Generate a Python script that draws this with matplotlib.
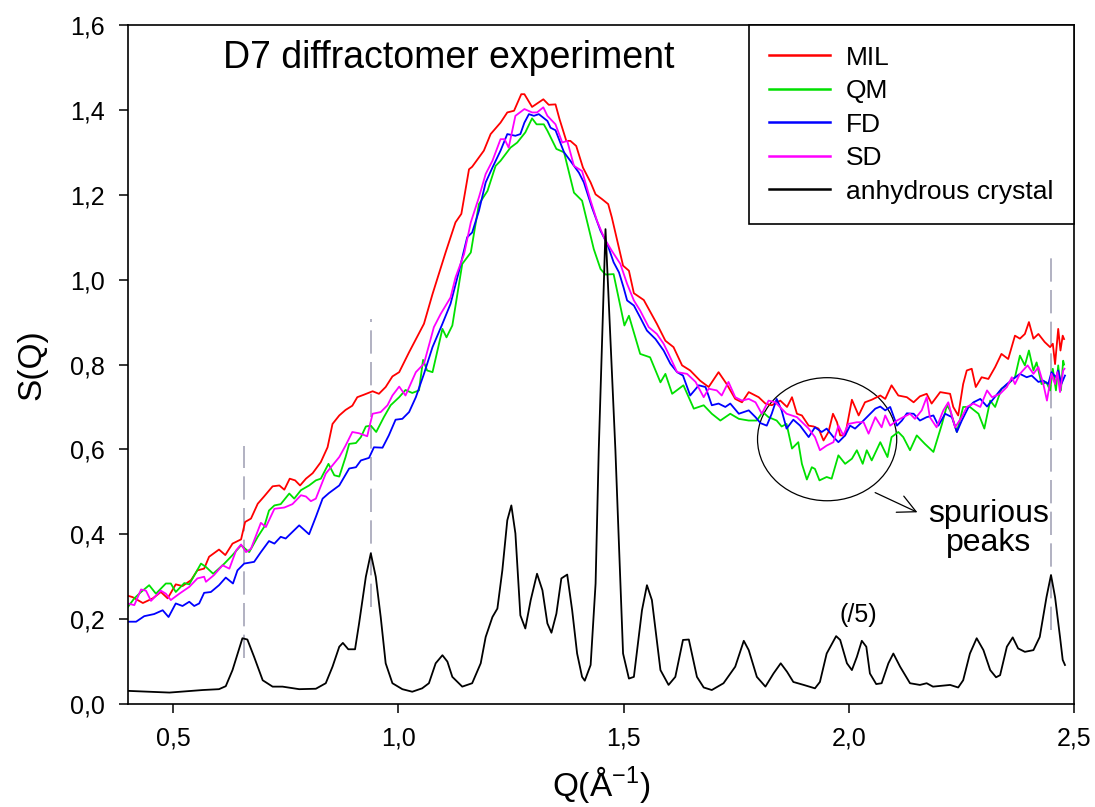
import numpy as np
import matplotlib
matplotlib.use('Agg')
import matplotlib.pyplot as plt
from matplotlib.patches import Ellipse

plt.rcParams['font.family'] = ['Liberation Sans', 'DejaVu Sans']
plt.rcParams['mathtext.fontset'] = 'custom'
plt.rcParams['mathtext.rm'] = 'Liberation Sans'
plt.rcParams['mathtext.default'] = 'regular'

# values: (Q, S(Q))
mil = [(0.400,0.255),(0.410,0.252),(0.433,0.238),(0.455,0.249),(0.473,0.264),(0.488,0.249),(0.506,0.282),(0.521,0.278),(0.540,0.292),(0.554,0.315),
       (0.569,0.319),(0.580,0.347),(0.602,0.364),(0.616,0.351),(0.632,0.378),(0.651,0.388),(0.660,0.429),(0.673,0.437),(0.688,0.472),(0.702,0.489),
       (0.721,0.513),(0.736,0.515),(0.747,0.505),(0.759,0.531),(0.771,0.527),(0.782,0.515),(0.795,0.531),(0.810,0.544),(0.828,0.570),(0.843,0.605),
       (0.854,0.660),(0.869,0.680),(0.883,0.693),(0.898,0.703),(0.909,0.723),(0.924,0.729),(0.943,0.737),(0.957,0.731),(0.972,0.747),(0.987,0.772),
       (1.002,0.782),(1.024,0.829),(1.057,0.896),(1.076,0.966),(1.105,1.064),(1.127,1.135),(1.140,1.155),(1.157,1.260),(1.164,1.266),(1.190,1.304),
       (1.205,1.343),(1.227,1.370),(1.242,1.394),(1.257,1.398),(1.273,1.437),(1.280,1.437),(1.297,1.407),(1.322,1.425),(1.334,1.412),(1.349,1.413),
       (1.358,1.378),(1.373,1.327),(1.382,1.327),(1.395,1.315),(1.410,1.264),(1.427,1.229),(1.438,1.201),(1.452,1.190),(1.466,1.178),(1.474,1.147),
       (1.486,1.092),(1.499,1.033),(1.512,1.021),(1.523,0.968),(1.545,0.952),(1.574,0.896),(1.593,0.856),(1.611,0.841),(1.630,0.798),(1.648,0.786),
       (1.670,0.762),(1.689,0.747),(1.711,0.782),(1.729,0.754),(1.748,0.719),(1.763,0.711),(1.778,0.735),(1.800,0.723),(1.815,0.708),(1.829,0.704),
       (1.848,0.715),(1.863,0.700),(1.874,0.723),(1.885,0.684),(1.896,0.680),(1.911,0.656),(1.922,0.654),(1.933,0.649),(1.944,0.621),(1.955,0.641),
       (1.965,0.684),(1.974,0.664),(1.981,0.633),(1.992,0.633),(2.007,0.717),(2.022,0.680),(2.036,0.711),(2.051,0.717),(2.070,0.727),(2.081,0.719),
       (2.095,0.751),(2.110,0.727),(2.129,0.723),(2.144,0.711),(2.158,0.725),(2.173,0.731),(2.184,0.708),(2.203,0.735),(2.225,0.731),(2.232,0.700),
       (2.243,0.680),(2.254,0.754),(2.262,0.786),(2.273,0.790),(2.282,0.747),(2.295,0.770),(2.310,0.766),(2.325,0.794),(2.339,0.825),(2.354,0.813),
       (2.369,0.868),(2.380,0.861),(2.391,0.872),(2.400,0.900),(2.410,0.861),(2.421,0.872),(2.435,0.853),(2.447,0.841),(2.453,0.849),(2.458,0.801),
       (2.465,0.884),(2.470,0.833),(2.475,0.868),(2.478,0.860)]

qm = [(0.400,0.229),(0.414,0.249),(0.429,0.264),(0.447,0.280),(0.462,0.260),(0.484,0.284),(0.495,0.284),(0.506,0.264),(0.525,0.285),(0.536,0.282),
      (0.562,0.331),(0.573,0.323),(0.589,0.307),(0.614,0.331),(0.632,0.351),(0.651,0.374),(0.669,0.358),(0.688,0.394),(0.702,0.417),(0.713,0.456),
      (0.725,0.468),(0.739,0.471),(0.758,0.496),(0.769,0.484),(0.784,0.504),(0.802,0.515),(0.817,0.527),(0.828,0.531),(0.845,0.566),(0.858,0.539),
      (0.869,0.536),(0.883,0.582),(0.891,0.613),(0.906,0.615),(0.917,0.629),(0.928,0.654),(0.939,0.656),(0.951,0.641),(0.968,0.676),(0.983,0.704),
      (1.002,0.723),(1.016,0.740),(1.031,0.733),(1.046,0.739),(1.055,0.811),(1.064,0.786),(1.076,0.782),(1.098,0.884),(1.107,0.864),(1.120,0.892),
      (1.142,1.037),(1.161,1.064),(1.179,1.178),(1.198,1.209),(1.216,1.268),(1.227,1.280),(1.249,1.311),(1.264,1.323),(1.282,1.347),(1.297,1.380),
      (1.307,1.366),(1.323,1.366),(1.331,1.351),(1.351,1.308),(1.368,1.300),(1.390,1.205),(1.408,1.186),(1.434,1.072),(1.449,1.025),(1.460,1.012),
      (1.478,1.013),(1.489,0.958),(1.502,0.892),(1.512,0.915),(1.537,0.825),(1.559,0.817),(1.582,0.758),(1.593,0.778),(1.608,0.731),(1.633,0.751),
      (1.656,0.696),(1.678,0.704),(1.696,0.684),(1.715,0.668),(1.737,0.684),(1.756,0.672),(1.778,0.668),(1.796,0.668),(1.809,0.688),(1.822,0.676),
      (1.840,0.668),(1.851,0.654),(1.862,0.660),(1.874,0.602),(1.888,0.617),(1.896,0.566),(1.907,0.529),(1.918,0.558),(1.925,0.554),(1.935,0.527),
      (1.951,0.535),(1.962,0.531),(1.977,0.586),(1.992,0.566),(2.007,0.578),(2.018,0.598),(2.031,0.566),(2.040,0.598),(2.051,0.574),(2.070,0.617),
      (2.086,0.582),(2.095,0.629),(2.110,0.641),(2.121,0.629),(2.136,0.598),(2.151,0.633),(2.169,0.613),(2.188,0.594),(2.207,0.660),(2.218,0.704),
      (2.225,0.692),(2.240,0.641),(2.254,0.700),(2.269,0.700),(2.288,0.684),(2.301,0.649),(2.314,0.715),(2.325,0.700),(2.339,0.743),(2.354,0.754),
      (2.369,0.770),(2.380,0.821),(2.391,0.798),(2.400,0.833),(2.410,0.786),(2.417,0.805),(2.428,0.754),(2.439,0.758),(2.447,0.739),(2.453,0.790),
      (2.460,0.739),(2.465,0.798),(2.471,0.739),(2.476,0.809),(2.478,0.800)]

fd = [(0.400,0.194),(0.418,0.194),(0.436,0.207),(0.458,0.212),(0.477,0.221),(0.490,0.205),(0.506,0.237),(0.521,0.231),(0.536,0.241),(0.547,0.231),
      (0.558,0.237),(0.569,0.262),(0.584,0.264),(0.602,0.280),(0.617,0.298),(0.633,0.284),(0.643,0.315),(0.658,0.331),(0.680,0.335),(0.695,0.358),
      (0.713,0.384),(0.725,0.378),(0.739,0.394),(0.750,0.390),(0.780,0.421),(0.802,0.400),(0.817,0.441),(0.832,0.484),(0.846,0.497),(0.869,0.515),
      (0.891,0.555),(0.906,0.558),(0.917,0.574),(0.935,0.580),(0.946,0.605),(0.965,0.604),(0.979,0.633),(0.994,0.670),(1.009,0.672),(1.024,0.688),
      (1.039,0.723),(1.057,0.778),(1.076,0.841),(1.098,0.896),(1.116,0.943),(1.135,1.021),(1.153,1.100),(1.164,1.111),(1.179,1.162),(1.194,1.229),
      (1.209,1.264),(1.227,1.304),(1.242,1.343),(1.260,1.339),(1.271,1.343),(1.280,1.370),(1.290,1.390),(1.301,1.386),(1.312,1.390),(1.331,1.374),
      (1.338,1.358),(1.349,1.352),(1.368,1.300),(1.382,1.280),(1.401,1.252),(1.412,1.229),(1.430,1.170),(1.449,1.115),(1.464,1.084),(1.478,1.041),
      (1.490,1.017),(1.500,0.982),(1.508,0.951),(1.523,0.939),(1.537,0.911),(1.552,0.880),(1.571,0.860),(1.589,0.833),(1.604,0.802),(1.619,0.782),
      (1.632,0.774),(1.648,0.727),(1.667,0.751),(1.682,0.747),(1.696,0.704),(1.711,0.708),(1.726,0.700),(1.737,0.708),(1.756,0.684),(1.778,0.692),
      (1.793,0.676),(1.804,0.662),(1.818,0.656),(1.829,0.684),(1.840,0.719),(1.851,0.692),(1.862,0.649),(1.877,0.670),(1.892,0.656),(1.911,0.629),
      (1.925,0.652),(1.940,0.641),(1.951,0.649),(1.966,0.629),(1.977,0.617),(1.992,0.633),(2.003,0.656),(2.014,0.649),(2.029,0.664),(2.044,0.680),
      (2.059,0.696),(2.070,0.701),(2.081,0.692),(2.092,0.700),(2.107,0.656),(2.118,0.668),(2.129,0.685),(2.144,0.684),(2.158,0.668),(2.173,0.676),
      (2.188,0.680),(2.199,0.656),(2.214,0.684),(2.229,0.676),(2.240,0.641),(2.251,0.668),(2.266,0.700),(2.277,0.711),(2.292,0.719),(2.307,0.701),
      (2.321,0.719),(2.336,0.739),(2.351,0.754),(2.370,0.770),(2.380,0.778),(2.395,0.770),(2.406,0.774),(2.421,0.759),(2.432,0.762),(2.443,0.754),
      (2.450,0.782),(2.460,0.770),(2.465,0.786),(2.472,0.754),(2.480,0.774)]

sd = [(0.400,0.237),(0.414,0.233),(0.429,0.270),(0.440,0.267),(0.451,0.243),(0.473,0.267),(0.484,0.260),(0.495,0.245),(0.514,0.260),(0.536,0.276),
      (0.554,0.296),(0.569,0.300),(0.573,0.288),(0.591,0.304),(0.610,0.327),(0.625,0.319),(0.640,0.362),(0.651,0.376),(0.662,0.358),(0.673,0.366),
      (0.695,0.427),(0.706,0.417),(0.725,0.460),(0.747,0.463),(0.765,0.471),(0.784,0.492),(0.795,0.489),(0.806,0.478),(0.817,0.484),(0.839,0.543),
      (0.869,0.582),(0.883,0.609),(0.898,0.641),(0.913,0.638),(0.931,0.631),(0.943,0.684),(0.961,0.688),(0.976,0.704),(0.987,0.727),(1.002,0.748),
      (1.016,0.727),(1.039,0.782),(1.057,0.802),(1.079,0.888),(1.094,0.919),(1.116,0.958),(1.127,1.005),(1.146,1.060),(1.161,1.135),(1.179,1.194),
      (1.194,1.249),(1.209,1.280),(1.227,1.331),(1.236,1.331),(1.245,1.311),(1.260,1.386),(1.280,1.402),(1.297,1.394),(1.308,1.394),(1.322,1.406),
      (1.331,1.386),(1.349,1.366),(1.364,1.323),(1.375,1.327),(1.390,1.268),(1.408,1.256),(1.427,1.186),(1.441,1.139),(1.458,1.096),(1.474,1.068),
      (1.493,1.037),(1.508,0.990),(1.523,0.951),(1.537,0.927),(1.556,0.888),(1.574,0.872),(1.589,0.849),(1.600,0.825),(1.619,0.782),(1.641,0.778),
      (1.660,0.759),(1.678,0.723),(1.689,0.743),(1.707,0.739),(1.718,0.727),(1.733,0.759),(1.748,0.723),(1.763,0.715),(1.778,0.719),(1.793,0.711),
      (1.807,0.684),(1.822,0.715),(1.837,0.711),(1.862,0.684),(1.885,0.676),(1.911,0.649),(1.925,0.629),(1.936,0.598),(1.951,0.609),(1.966,0.617),
      (1.977,0.656),(1.988,0.633),(1.999,0.660),(2.018,0.664),(2.033,0.664),(2.044,0.637),(2.059,0.676),(2.073,0.652),(2.081,0.680),(2.092,0.656),
      (2.107,0.668),(2.121,0.676),(2.136,0.684),(2.147,0.672),(2.162,0.692),(2.173,0.723),(2.180,0.676),(2.195,0.652),(2.210,0.692),(2.221,0.711),
      (2.236,0.652),(2.251,0.676),(2.262,0.700),(2.277,0.708),(2.292,0.700),(2.307,0.739),(2.318,0.723),(2.336,0.731),(2.351,0.747),(2.362,0.770),
      (2.369,0.754),(2.380,0.778),(2.397,0.798),(2.410,0.778),(2.421,0.794),(2.432,0.754),(2.440,0.715),(2.450,0.778),(2.458,0.754),(2.463,0.782),
      (2.469,0.735),(2.476,0.786),(2.479,0.790)]

# anhydrous crystal, already divided by 5
crystal = [(0.400,0.031),(0.492,0.027),(0.566,0.033),(0.602,0.035),(0.617,0.042),(0.632,0.080),(0.654,0.155),(0.665,0.152),(0.680,0.111),(0.699,0.056),
           (0.721,0.041),(0.743,0.041),(0.780,0.035),(0.817,0.036),(0.839,0.049),(0.854,0.088),(0.869,0.135),(0.877,0.144),(0.889,0.129),(0.904,0.129),
           (0.913,0.190),(0.928,0.300),(0.939,0.355),(0.950,0.300),(0.961,0.205),(0.972,0.096),(0.987,0.049),(1.009,0.035),(1.031,0.029),(1.053,0.037),
           (1.068,0.049),(1.083,0.096),(1.098,0.115),(1.109,0.100),(1.120,0.064),(1.142,0.041),(1.164,0.049),(1.183,0.096),(1.194,0.158),(1.209,0.205),
           (1.220,0.225),(1.231,0.315),(1.242,0.433),(1.251,0.468),(1.260,0.402),(1.271,0.209),(1.282,0.178),(1.294,0.245),(1.308,0.307),(1.320,0.268),
           (1.331,0.190),(1.340,0.168),(1.351,0.213),(1.362,0.296),(1.375,0.305),(1.386,0.221),(1.397,0.119),(1.408,0.064),(1.414,0.055),(1.427,0.092),
           (1.438,0.284),(1.445,0.598),(1.460,1.119),(1.482,0.598),(1.499,0.119),(1.512,0.060),(1.523,0.064),(1.541,0.221),(1.552,0.280),(1.563,0.245),
           (1.582,0.080),(1.600,0.045),(1.615,0.064),(1.632,0.151),(1.645,0.152),(1.663,0.064),(1.678,0.039),(1.696,0.033),(1.722,0.049),(1.748,0.088),
           (1.767,0.149),(1.778,0.127),(1.796,0.064),(1.815,0.041),(1.833,0.072),(1.849,0.096),(1.863,0.076),(1.877,0.052),(1.900,0.045),(1.925,0.037),
           (1.936,0.052),(1.951,0.119),(1.972,0.160),(1.981,0.151),(1.996,0.096),(2.007,0.080),(2.018,0.111),(2.029,0.149),(2.039,0.135),(2.047,0.072),
           (2.061,0.047),(2.073,0.049),(2.088,0.096),(2.099,0.119),(2.114,0.088),(2.136,0.049),(2.158,0.045),(2.173,0.049),(2.187,0.041),(2.225,0.045),
           (2.243,0.039),(2.254,0.056),(2.269,0.119),(2.284,0.155),(2.299,0.127),(2.314,0.080),(2.327,0.063),(2.336,0.068),(2.351,0.135),(2.364,0.157),
           (2.376,0.131),(2.391,0.123),(2.410,0.127),(2.424,0.158),(2.439,0.252),(2.449,0.304),(2.458,0.252),(2.469,0.158),(2.475,0.104),(2.480,0.092)]

# dashed markers: Q position, bottom, top
markers = [(0.658, 0.108, 0.609), (0.939, 0.228, 0.908), (2.450, 0.174, 1.064)]

series = [('MIL', mil, '#ff0000'), ('QM', qm, '#00e000'), ('FD', fd, '#0000ff'),
          ('SD', sd, '#ff00ff'), ('anhydrous crystal', crystal, 'black')]

fig = plt.figure(figsize=(10.95, 8.07), dpi=100)
ax = fig.add_axes([0.1169, 0.1276, 0.8639, 0.8414])

for q, lo, hi in markers:
    ax.plot([q, q], [lo, hi], color='#a4a4b8', lw=1.2, dashes=(14, 5))

for name, pts, col in series:
    a = np.array(pts)
    ax.plot(a[:, 0], a[:, 1], color=col, lw=1.3, label=name)

ax.add_patch(Ellipse((1.952, 0.624), 0.309, 0.290, fill=False, ec='black', lw=0.9))
ax.annotate('', xy=(2.158, 0.449), xytext=(2.053, 0.501),
            arrowprops=dict(arrowstyle='->', color='black', lw=0.9, mutation_scale=32))
ax.text(2.311, 0.413, 'spurious\npeaks', fontsize=23, ha='center', va='center', linespacing=0.95)
ax.text(2.021, 0.209, '(/5)', fontsize=18, ha='center', va='center')
ax.text(0.1004, 0.936, 'D7 diffractomer experiment', fontsize=27, transform=ax.transAxes)

ax.set_xlim(0.4, 2.5)
ax.set_ylim(0.0, 1.6)
ax.set_xticks([0.5, 1.0, 1.5, 2.0, 2.5])
ax.set_yticks(np.arange(0, 1.61, 0.2))
ax.set_xticklabels(['0,5', '1,0', '1,5', '2,0', '2,5'])
ax.set_yticklabels([('%.1f' % v).replace('.', ',') for v in np.arange(0, 1.61, 0.2)])
ax.tick_params(direction='out', length=6.5, width=1.1, labelsize=18, pad=10)
for s in ax.spines.values():
    s.set_linewidth(1.2)

ax.set_xlabel('Q(Å$^{-1}$)', fontsize=24)
ax.set_ylabel('S(Q)', fontsize=24)
ax.xaxis.set_label_coords(0.5, -0.088)
ax.yaxis.set_label_coords(-0.0856, 0.5)

leg = ax.legend(loc='upper right', bbox_to_anchor=(1.0, 1.0), borderaxespad=0, fontsize=19,
                fancybox=False, framealpha=1, edgecolor='black', handlelength=2.3,
                handletextpad=0.6, labelspacing=0.36, borderpad=0.78)
leg.get_frame().set_linewidth(1.2)
for h in leg.get_lines():
    h.set_linewidth(1.8)

fig.savefig('out.png', dpi=100)
